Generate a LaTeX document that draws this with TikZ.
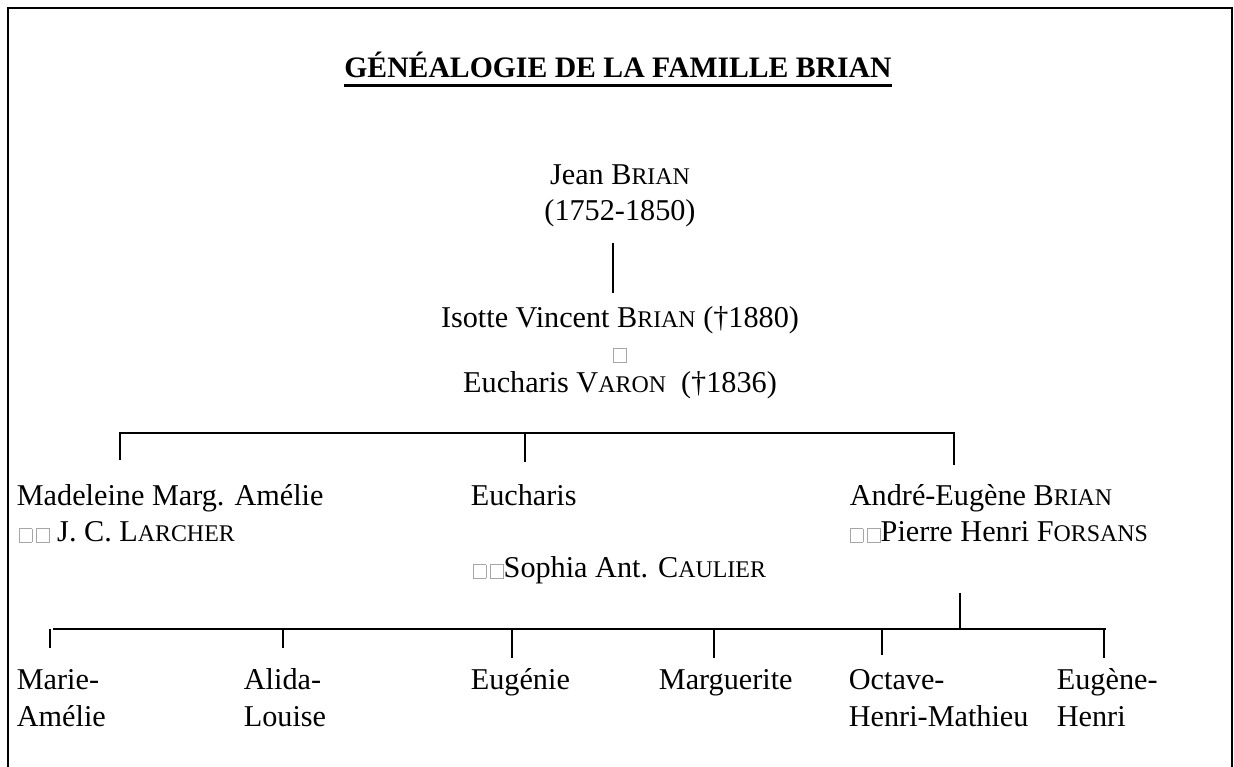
\documentclass[tikz,border=0pt]{standalone}
\usepackage{fontspec}
\setmainfont{Liberation Serif}
\usepackage{tikz}

% empty glyph boxes as printed in the source
\newcommand\vide{{\color{gray!70}\setlength\fboxsep{0pt}\setlength\fboxrule{0.4pt}\fbox{\rule{0pt}{0.26cm}\hspace{0.24cm}}}}
\newcommand\soustitre[1]{\setbox0=\hbox{#1}\rlap{\rule[-0.29em]{\wd0}{0.1em}}\box0}
% small capitals for family names
\newcommand\nom[2]{#1{\fontsize{13.6pt}{15pt}\selectfont #2}}

\tikzset{
  personne/.style={anchor=base west,inner sep=0pt,font=\fontsize{17.2pt}{19pt}\selectfont},
  centre/.style={personne,anchor=base}
}

\begin{document}
\begin{tikzpicture}[line width=1pt]
\useasboundingbox (0,0) rectangle (24.68,15.34);
% frame, open at the bottom
\draw[line width=1.1pt] (0.16,-0.2) -- (0.16,15.18) -- (24.64,15.18) -- (24.64,-0.2);

\node[anchor=base,inner sep=0pt,font=\fontsize{16.9pt}{20pt}\selectfont\bfseries] (titre) at (12.36,13.78)
  {\soustitre{GÉNÉALOGIE DE LA FAMILLE BRIAN}};

% generation 1
\node[centre] (jean) at (12.40,11.64) {Jean \nom{B}{RIAN}};
\node[centre] (jeandates) at (12.40,10.92) {(1752-1850)};
\coordinate (j1) at (12.26,10.48);
\coordinate (j2) at (12.26,9.48);
\draw (j1) -- (j2);

% couple
\node[centre] (isotte) at (12.40,8.78) {Isotte Vincent \nom{B}{RIAN} (†1880)};
\node[centre] (mariage) at (12.40,8.10) {\vide};
\node[centre] (varon) at (12.40,7.48) {Eucharis \nom{V}{ARON}\ \ (†1836)};

% generation 2
\coordinate (g1) at (2.40,6.68);
\coordinate (g2) at (10.50,6.68);
\coordinate (g3) at (19.08,6.68);
\coordinate (d1) at (2.40,6.14);
\coordinate (d2) at (10.50,6.10);
\coordinate (d3) at (19.08,6.04);
\draw (d1) -- (g1) -- (g3) -- (d3);
\draw (g2) -- (d2);

\node[personne] (madeleine) at (0.32,5.22) {Madeleine Marg. Amélie};
\node[personne] (larcher) at (0.36,4.50) {\vide\hspace{0.08cm}\vide\ J. C. \nom{L}{ARCHER}};
\node[personne] (eucharis) at (9.40,5.22) {Eucharis};
\node[personne] (caulier) at (9.44,3.78) {\vide\hspace{0.08cm}\vide Sophia Ant. \nom{C}{AULIER}};
\node[personne] (andre) at (16.98,5.22) {André-Eugène \nom{B}{RIAN}};
\node[personne] (forsans) at (16.98,4.50) {\vide\hspace{0.08cm}\vide Pierre Henri \nom{F}{ORSANS}};

% generation 3
\coordinate (a1) at (19.20,3.48);
\coordinate (a2) at (19.20,2.76);
\coordinate (r0) at (1.06,2.76);
\coordinate (r6) at (22.12,2.76);
\draw (a1) -- (a2);
\draw (r0) -- (r6);
\foreach \i/\x/\y in {1/1.00/2.38,2/5.66/2.38,3/10.24/2.18,4/14.28/2.18,5/17.64/2.24,6/22.08/2.18}{
  \coordinate (haut\i) at (\x,2.76);
  \coordinate (bas\i) at (\x,\y);
  \draw (haut\i) -- (bas\i);
}

\node[personne] (marie) at (0.32,1.54) {Marie-};
\node[personne] (marieb) at (0.32,0.80) {Amélie};
\node[personne] (alida) at (4.86,1.54) {Alida-};
\node[personne] (alidab) at (4.86,0.80) {Louise};
\node[personne] (eugenie) at (9.40,1.54) {Eugénie};
\node[personne] (marguerite) at (13.16,1.54) {Marguerite};
\node[personne] (octave) at (16.96,1.54) {Octave-};
\node[personne] (octaveb) at (16.96,0.80) {Henri-Mathieu};
\node[personne] (eugene) at (21.12,1.54) {Eugène-};
\node[personne] (eugeneb) at (21.12,0.80) {Henri};
\end{tikzpicture}
\end{document}
